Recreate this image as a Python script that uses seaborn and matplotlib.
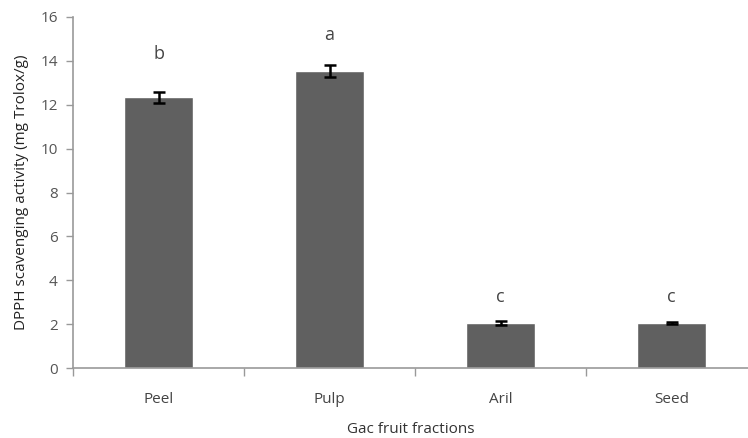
import matplotlib
matplotlib.use('Agg')

import matplotlib.pyplot as plt
import numpy as np
import pandas as pd
import seaborn as sns

fractions = ['Peel', 'Pulp', 'Aril', 'Seed']
activity = [12.35, 13.55, 2.05, 2.05]
errors = [0.25, 0.28, 0.10, 0.03]
letters = ['b', 'a', 'c', 'c']
letter_pos = [14.3, 15.2, 3.25, 3.25]
yticks = [0, 2, 4, 6, 8, 10, 12, 14, 16]

df = pd.DataFrame({'fraction': fractions, 'activity': activity})

sns.set_style('white')
plt.rcParams['font.family'] = ['Open Sans', 'DejaVu Sans']

fig = plt.figure(figsize=(7.48, 4.38), dpi=100, facecolor='white')
ax = fig.add_axes([0.0976, 0.1598, 0.9024, 0.8014])

sns.barplot(data=df, x='fraction', y='activity', color='#606060',
            saturation=1, width=0.4, errorbar=None, ax=ax)

# error bars
ax.errorbar(np.arange(len(fractions)), activity, yerr=errors, fmt='none',
            ecolor='black', elinewidth=1.8, capsize=4, capthick=1.8)

# significance letters
for i, (lab, yp) in enumerate(zip(letters, letter_pos)):
    ax.text(i, yp, lab, ha='center', va='center', fontsize=13, color='#444444')

ax.set_ylim(0, 16)
ax.set_xlim(-0.5, 3.447)
ax.set_yticks(yticks)
ax.set_yticklabels([str(t) for t in yticks], fontsize=11, color='#555555')

# category labels centred, tick marks between categories
ax.set_xticks(range(len(fractions)))
ax.set_xticklabels(fractions, fontsize=11, color='#444444')
ax.set_xticks(np.arange(len(fractions)) - 0.5, minor=True)
ax.tick_params(axis='x', which='major', length=0, pad=17)
ax.tick_params(axis='x', which='minor', length=6, width=1, color='#999999', direction='out', bottom=True)
ax.tick_params(axis='y', length=5, width=1, color='#999999', direction='out', left=True, pad=6)

ax.set_xlabel('Gac fruit fractions', fontsize=11, color='#333333', labelpad=11)
ax.set_ylabel('DPPH scavenging activity (mg Trolox/g)', fontsize=11,
              color='#222222', labelpad=8)

for side in ['top', 'right']:
    ax.spines[side].set_visible(False)
for side in ['left', 'bottom']:
    ax.spines[side].set_color('#999999')
    ax.spines[side].set_linewidth(1.2)

plt.savefig('out.png', dpi=100, facecolor='white')
plt.close()
